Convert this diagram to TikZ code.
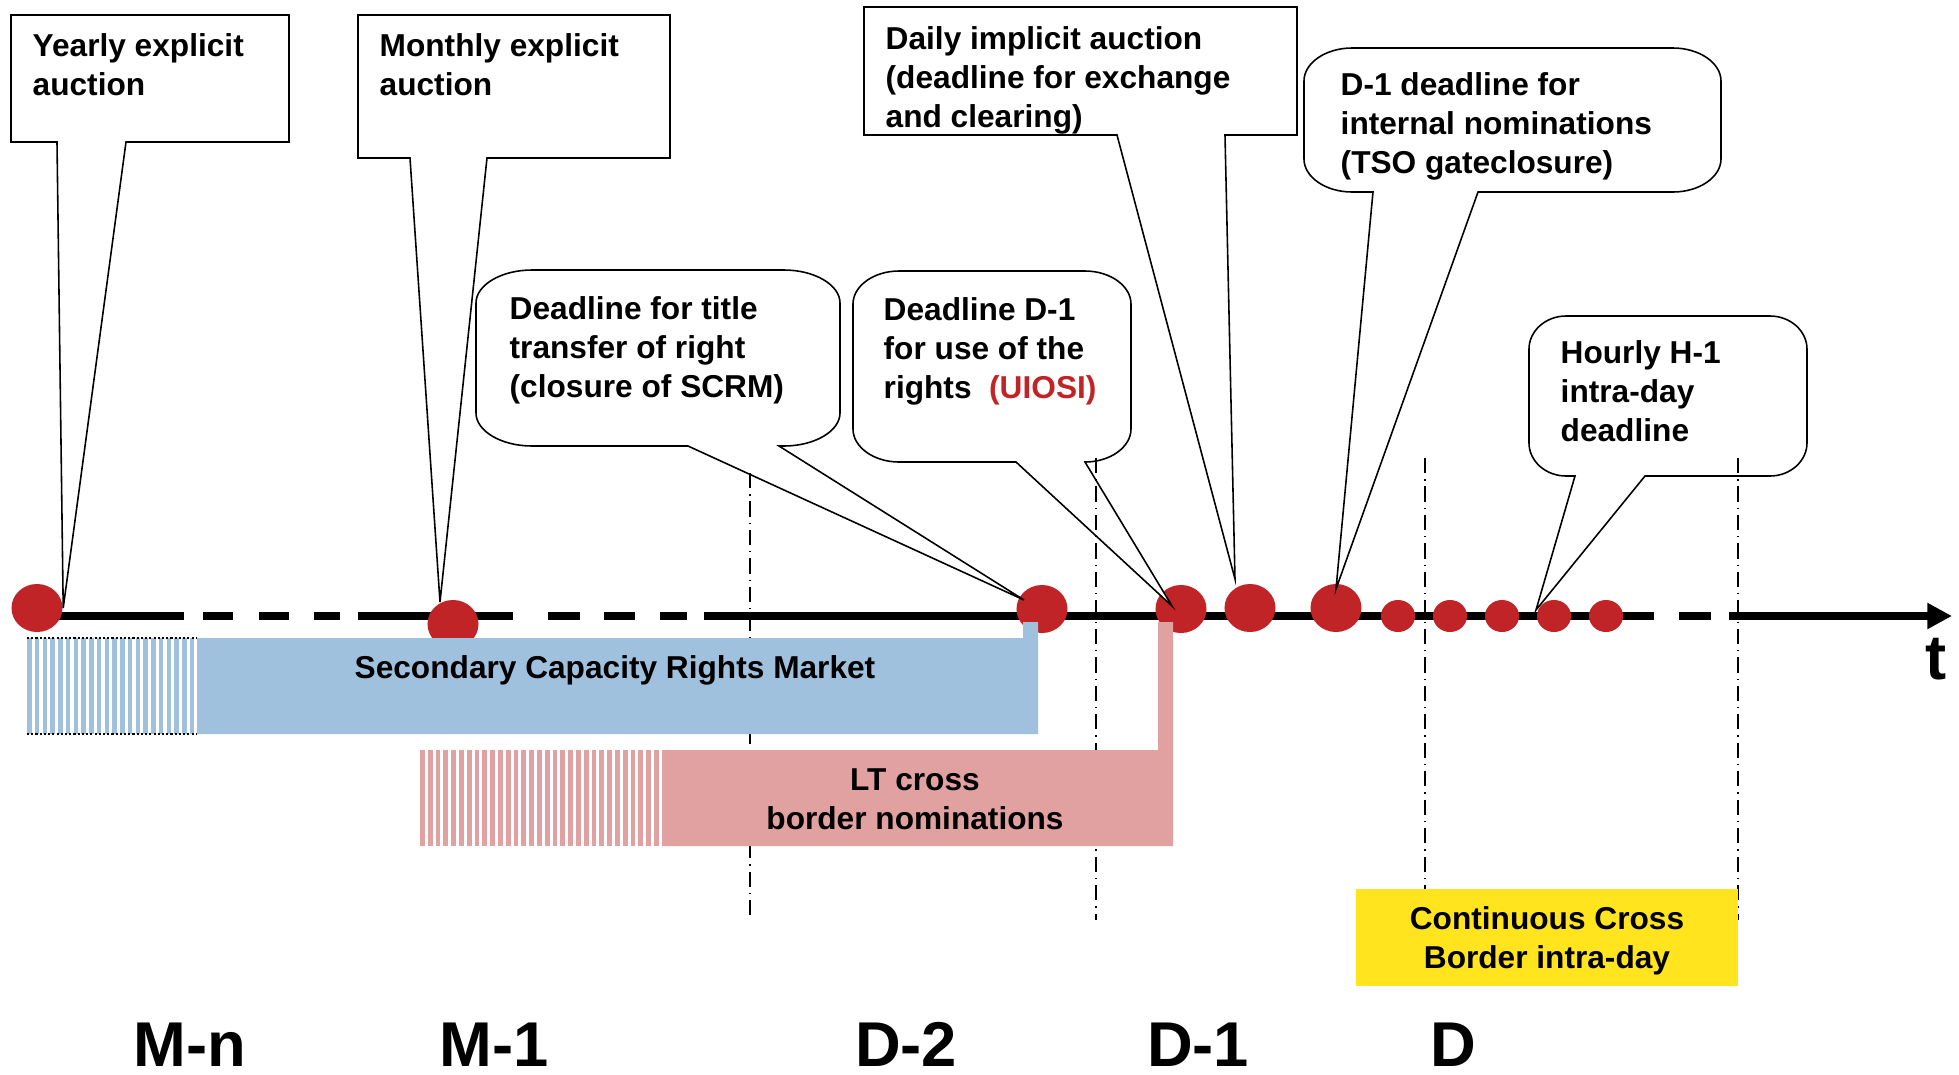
\documentclass[tikz,border=0pt]{standalone}
\usepackage{fontspec}
\setmainfont{Liberation Sans}
\usepackage{xcolor}
\usepackage{tikz}
\usetikzlibrary{shapes.geometric,arrows.meta}

\definecolor{dotred}{RGB}{193,36,39}
\definecolor{barblue}{RGB}{160,193,222}
\definecolor{barpink}{RGB}{225,161,161}
\definecolor{boxyellow}{RGB}{255,228,30}

% rounded callout: left, top, right, bottom, tail base left, tail base right, tip, corner width
\newcommand{\roundcall}[8]{%
  \draw[bubble] (#1,#2+33) .. controls (#1,#2+15) and (#1+#8*0.45,#2) .. (#1+#8,#2)
    -- (#3-#8,#2) .. controls (#3-#8*0.45,#2) and (#3,#2+15) .. (#3,#2+33)
    -- (#3,#4-33) .. controls (#3,#4-15) and (#3-#8*0.45,#4) .. (#3-#8,#4)
    -- (#6,#4) -- (#7) -- (#5,#4)
    -- (#1+#8,#4) .. controls (#1+#8*0.45,#4) and (#1,#4-15) .. (#1,#4-33) -- cycle;}

\begin{document}
\begin{tikzpicture}[x=0.01cm, y=-0.01cm,
  reddot/.style={ellipse, fill=dotred, inner sep=0pt, minimum width=0.51cm, minimum height=0.48cm},
  smalldot/.style={ellipse, fill=dotred, inner sep=0pt, minimum width=0.34cm, minimum height=0.32cm},
  bubble/.style={draw=black, fill=white, line width=0.45pt},
  dayline/.style={draw=black, line width=0.45pt, dash pattern=on 4.3pt off 1.7pt on 0.4pt off 1.7pt},
  axisline/.style={black, line width=2.3pt},
  txt/.style={font=\fontsize{9}{11}\selectfont\bfseries, inner sep=0pt, align=left, anchor=north west},
  bartxt/.style={font=\fontsize{9}{11}\selectfont\bfseries, inner sep=0pt, align=center, anchor=north},
  daytxt/.style={font=\fontsize{18}{20}\selectfont\bfseries, inner sep=0pt, anchor=base}]
\useasboundingbox (0,0) rectangle (1959,1075);

% time axis
\draw[axisline] (36,616) -- (184,616);
\foreach \a/\b in {203/233, 259/289, 314/340, 548/580, 604/635, 660/687, 1679/1711}
  \draw[axisline] (\a,616) -- (\b,616);
\draw[axisline] (358,616) -- (513,616);
\draw[axisline] (704,616) -- (1654,616);
\draw[axisline, -{Triangle[length=7pt,width=7pt]}] (1729,616) -- (1952,616);

% deadlines
\node[reddot] (yr) at (37,608) {};
\node[reddot] (mo) at (453,624) {};
\node[reddot] (sc) at (1042,609) {};
\node[reddot] (ui) at (1181,609) {};
\node[reddot] (da) at (1250,608) {};
\node[reddot] (ts) at (1336,608) {};
\foreach \x [count=\i] in {1398,1450,1502,1554,1606}
  \node[smalldot] (h\i) at (\x,616) {};

% callouts
\draw[bubble] (11,15) -- (289,15) -- (289,142) -- (126,142) -- (yr.east) -- (57,142) -- (11,142) -- cycle;
\draw[bubble] (358,15) -- (670,15) -- (670,158) -- (487,158) -- ([shift={(-13,-22)}]mo.center) -- (410,158) -- (358,158) -- cycle;
\draw[bubble] (864,7) -- (1297,7) -- (1297,135) -- (1225,135) -- ([shift={(-15,-29)}]da.center) -- (1117,135) -- (864,135) -- cycle;
\roundcall{476}{270}{840}{446}{688}{779}{[shift={(-18,-9)}]sc.center}{56}
\roundcall{853}{271}{1131}{462}{1016}{1085}{[shift={(-9,-3)}]ui.center}{46}
\roundcall{1304}{48}{1721}{192}{1373}{1478}{[shift={(0,-19)}]ts.center}{48}
\roundcall{1529}{316}{1807}{476}{1575}{1645}{[shift={(-18,-6)}]h4.center}{37}

% day boundaries
\draw[dayline] (750,473) -- (750,916);
\foreach \x in {1096,1425,1738}
  \draw[dayline] (\x,458) -- (\x,920);

% SCRM bar
\foreach \i in {0,...,21}
  \fill[barblue] (27+7.75*\i,638) rectangle ++(4.6,96);
\draw[black, line width=0.6pt, dash pattern=on 0.6pt off 0.6pt] (27,638) -- (197,638) (27,734) -- (197,734);
\fill[barblue] (197,638) -- (1023,638) -- (1023,622) -- (1038,622) -- (1038,734) -- (197,734) -- cycle;

% nominations bar
\foreach \i in {0,...,30}
  \fill[barpink] (420+7.8*\i,750) rectangle ++(4.7,96);
\fill[barpink] (662,750) -- (1158,750) -- (1158,622) -- (1173,622) -- (1173,846) -- (662,846) -- cycle;

% intra-day box
\fill[boxyellow] (1356,889) rectangle (1738,986);

% labels
\node[txt] (yrtxt) at (32,33) {Yearly explicit\\auction};
\node[txt] (motxt) at (379,33) {Monthly explicit\\auction};
\node[txt] (datxt) at (885,26) {Daily implicit auction\\(deadline for exchange\\and clearing)};
\node[txt] (tstxt) at (1340,72) {D-1 deadline for\\internal nominations\\(TSO gateclosure)};
\node[txt] (titxt) at (509,296) {Deadline for title\\transfer of right\\(closure of SCRM)};
\node[txt] (uitxt) at (883,297) {Deadline D-1\\for use of the\\rights~~\textcolor{dotred}{(UIOSI)}};
\node[txt] (hotxt) at (1560,340) {Hourly H-1\\intra-day\\deadline};
\node[bartxt, anchor=base] (scrmtxt) at (615,678) {Secondary Capacity Rights Market};
\node[bartxt] (lttxt) at (915,768) {LT cross\\border nominations};
\node[bartxt] (cbtxt) at (1547,906) {Continuous Cross\\Border intra-day};

\node[daytxt] (mn) at (190,1066) {M-n};
\node[daytxt] (m1) at (494,1066) {M-1};
\node[daytxt] (d2) at (906,1066) {D-2};
\node[daytxt] (d1) at (1198,1066) {D-1};
\node[daytxt] (d0) at (1453,1066) {D};
\node[daytxt] (tt) at (1936,679) {t};
\end{tikzpicture}
\end{document}
